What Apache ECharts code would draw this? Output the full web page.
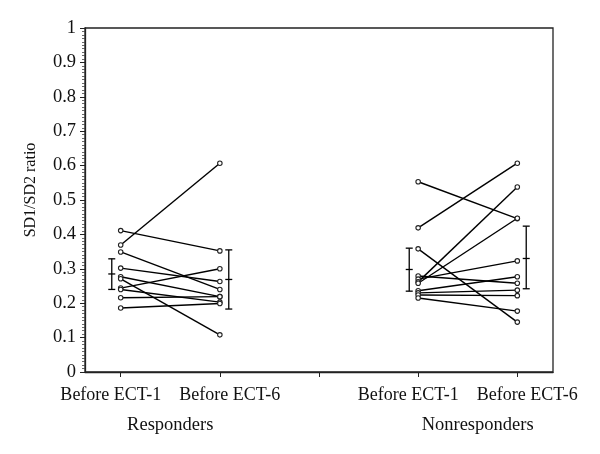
<!DOCTYPE html>
<html><head><meta charset="utf-8">
<script src="https://cdn.jsdelivr.net/npm/echarts@6/dist/echarts.min.js"></script>
<style>html,body{margin:0;padding:0;background:#fff}#c{width:600px;height:454px}</style>
</head><body><div id="c"></div>
<script>
// x positions of the four measurement columns (plus a separator tick at 3)
const tickPositions = [1, 2, 3, 4, 5];
const labelPositions = [1, 2, 4, 5];
const tickLabels = ['Before ECT-1', 'Before ECT-6', 'Before ECT-1', 'Before ECT-6'];
const groupLabelPositions = [1.5, 4.6];
const groupLabels = ['Responders', 'Nonresponders'];

// Responders: paired values
const respBefore1 = [0.411, 0.369, 0.349, 0.302, 0.277, 0.271, 0.244, 0.240, 0.216, 0.186];
const respBefore6 = [0.352, 0.607, 0.240, 0.263, 0.219, 0.108, 0.300, 0.203, 0.219, 0.199];

// Nonresponders: paired values
const nonBefore1 = [0.553, 0.419, 0.358, 0.279, 0.270, 0.262, 0.258, 0.236, 0.230, 0.224, 0.215];
const nonBefore6 = [0.446, 0.607, 0.145, 0.258, 0.323, 0.538, 0.447, 0.277, 0.238, 0.222, 0.177];

// Mean ± SD bars: [Resp ECT-1, Resp ECT-6, Nonresp ECT-1, Nonresp ECT-6]
const errMean = [0.285, 0.269, 0.298, 0.330];
const errLow  = [0.240, 0.183, 0.235, 0.242];
const errHigh = [0.329, 0.355, 0.360, 0.424];
const errColumn = [1, 2, 4, 5];

const FONT = 'Liberation Serif';
const INK = '#111';
const BAR_SHIFT = 0.09;
const LABEL_SHIFT = 0.1;
const XMIN = 0.64, XMAX = 5.36;

const series = [];
function addPairs(b1, b6, x1, x2) {
  for (let i = 0; i < b1.length; i++) {
    series.push({
      type: 'line', xAxisIndex: 0, yAxisIndex: 0,
      data: [[x1, b1[i]], [x2, b6[i]]],
      symbol: 'circle', symbolSize: 4.5, showSymbol: true,
      lineStyle: { color: '#000', width: 1.4 },
      itemStyle: { color: '#fff', borderColor: '#222', borderWidth: 1.1 },
      z: 3, silent: true
    });
  }
}
addPairs(respBefore1, respBefore6, 1, 2);
addPairs(nonBefore1, nonBefore6, 4, 5);

const errData = errColumn.map((c, i) => {
  const shift = (i % 2 === 0) ? -BAR_SHIFT : BAR_SHIFT;
  return [c + shift, errLow[i], errMean[i], errHigh[i]];
});
series.push({
  type: 'custom', xAxisIndex: 0, yAxisIndex: 0,
  data: errData,
  renderItem: function (params, api) {
    const x = api.value(0);
    const lo = api.coord([x, api.value(1)]);
    const mid = api.coord([x, api.value(2)]);
    const hi = api.coord([x, api.value(3)]);
    const hw = 3.5;
    const st = { stroke: '#000', lineWidth: 1.3 };
    return {
      type: 'group',
      children: [
        { type: 'line', shape: { x1: lo[0], y1: lo[1], x2: hi[0], y2: hi[1] }, style: st },
        { type: 'line', shape: { x1: lo[0] - hw, y1: lo[1], x2: lo[0] + hw, y2: lo[1] }, style: st },
        { type: 'line', shape: { x1: hi[0] - hw, y1: hi[1], x2: hi[0] + hw, y2: hi[1] }, style: st },
        { type: 'line', shape: { x1: mid[0] - hw, y1: mid[1], x2: mid[0] + hw, y2: mid[1] }, style: st }
      ]
    };
  },
  z: 4, silent: true
});

function labelAxis(values, texts, margin, size) {
  return {
    type: 'value', min: XMIN, max: XMAX, position: 'bottom', offset: 0,
    axisLine: { show: false }, axisTick: { show: false },
    axisLabel: {
      customValues: values,
      formatter: v => texts[values.indexOf(v)],
      interval: 0, hideOverlap: false, showMinLabel: true, showMaxLabel: true,
      margin: margin, fontFamily: FONT, fontSize: size, color: INK
    },
    splitLine: { show: false }
  };
}
// the two labels of each pair are spread apart a little so they do not touch
const oddPos = labelPositions.filter((_, i) => i % 2 === 0).map(v => v - LABEL_SHIFT);
const oddTxt = tickLabels.filter((_, i) => i % 2 === 0);
const evenPos = labelPositions.filter((_, i) => i % 2 === 1).map(v => v + LABEL_SHIFT);
const evenTxt = tickLabels.filter((_, i) => i % 2 === 1);

const chart = echarts.init(document.getElementById('c'), null, { renderer: 'canvas' });
chart.setOption({
  animation: false,
  backgroundColor: '#fff',
  grid: { left: 85, right: 47, top: 28, bottom: 82, show: true, borderColor: '#222', borderWidth: 1.3, backgroundColor: 'transparent' },
  xAxis: [{
    type: 'value', min: XMIN, max: XMAX, position: 'bottom',
    axisLine: { show: true, onZero: false, lineStyle: { color: '#222', width: 1.3 } },
    axisTick: { show: true, customValues: tickPositions, length: 5, lineStyle: { color: '#222', width: 1 } },
    axisLabel: { show: false },
    splitLine: { show: false }
  },
    labelAxis(oddPos, oddTxt, 14, 18),
    labelAxis(evenPos, evenTxt, 14, 18),
    labelAxis(groupLabelPositions, groupLabels, 44, 18.5)
  ],
  yAxis: {
    type: 'value', min: 0, max: 1, interval: 0.1,
    name: 'SD1/SD2 ratio', nameLocation: 'middle', nameGap: 46, nameRotate: 90,
    nameTextStyle: { fontFamily: FONT, fontSize: 16, color: INK, padding: [0, 0, 0, 20] },
    axisLine: { show: true, onZero: false, lineStyle: { color: '#222', width: 1.3 } },
    axisTick: { show: true, length: 5, lineStyle: { color: '#222', width: 1 } },
    minorTick: { show: true, splitNumber: 10, length: 3, lineStyle: { color: '#444', width: 0.8 } },
    axisLabel: { margin: 9, fontFamily: FONT, fontSize: 18.5, color: INK, formatter: v => String(+v.toFixed(1)) },
    splitLine: { show: false }, minorSplitLine: { show: false }
  },
  series: series
});
</script>
</body></html>
